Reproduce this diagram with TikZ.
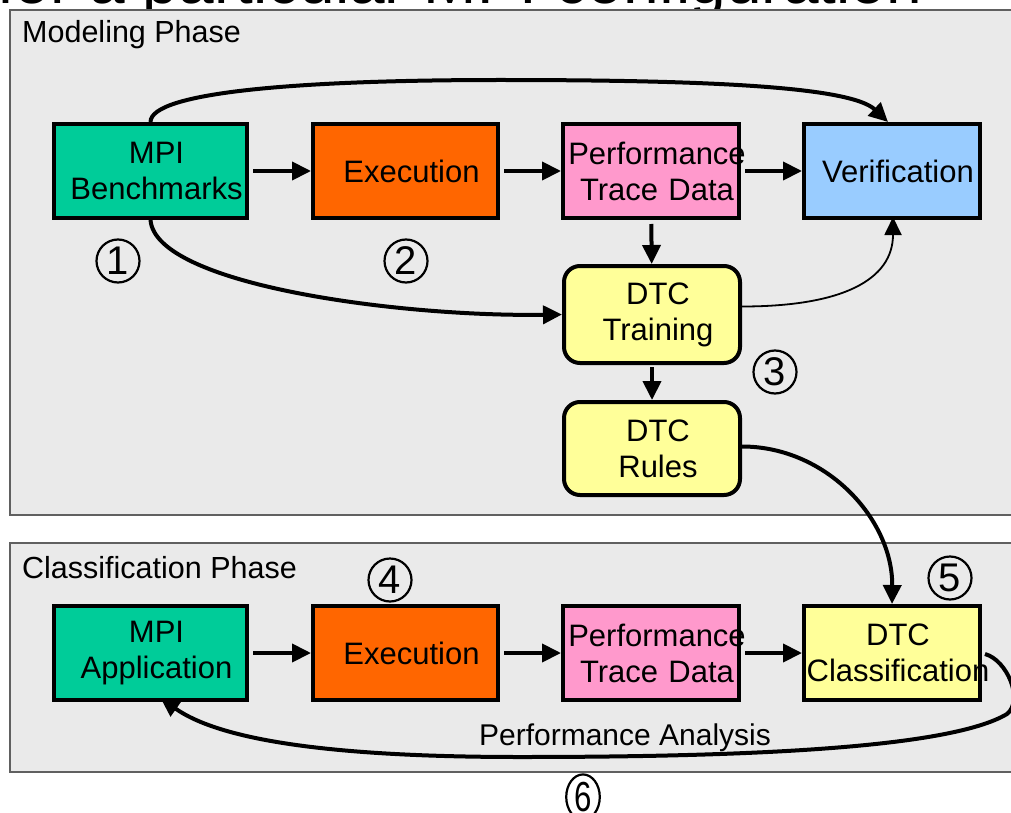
\documentclass[tikz,border=0pt]{standalone}
\usepackage{fontspec}
\setmainfont{Liberation Sans}
\usetikzlibrary{arrows.meta}
\definecolor{cteal}{HTML}{00CC99}
\definecolor{corange}{HTML}{FF6600}
\definecolor{cpink}{HTML}{FF99CC}
\definecolor{cblue}{HTML}{99CCFF}
\definecolor{cyellow}{HTML}{FFFF99}
\definecolor{cpanel}{HTML}{EAEAEA}
\definecolor{cpanelline}{HTML}{606060}
\newcommand\tline[1]{\hspace*{12pt}\makebox[0pt]{#1}}
\begin{document}
\begin{tikzpicture}[x=1pt,y=-1pt,
  box/.style={draw=black, line width=4pt, inner sep=0pt, minimum height=94pt,
    text width=#1, minimum width=#1,
    align=center, font=\fontsize{31}{36}\selectfont},
  rbox/.style={box=#1, rounded corners=16pt},
  panel/.style={fill=cpanel, draw=cpanelline, line width=1.5pt},
  panellabel/.style={anchor=base west, inner sep=0pt, font=\fontsize{30.5}{34}\selectfont},
  num/.style={circle, draw=black, line width=2.2pt, inner sep=0pt, minimum size=43pt,
    font=\fontsize{40}{40}\selectfont},
  conn/.style={line width=4pt, -{Triangle[length=19pt,width=18pt]}},
  thinconn/.style={line width=1.8pt, -{Triangle[length=18pt,width=17pt]}}
]
\useasboundingbox (0,0) rectangle (1011,813);
\clip (0,0) rectangle (1011,813);

% cut-off title
\node[anchor=base west, inner sep=0pt, font=\fontsize{64}{64}\selectfont] (title) at (-3,4) {for a particular MPI configuration};

% panels
\draw[panel] (10,10) rectangle (1030,515);
\draw[panel] (10,543) rectangle (1030,772);
\node[panellabel] (lab1) at (22,43) {Modeling Phase};
\node[panellabel] (lab2) at (22,578) {Classification Phase};

% modeling row
\node[box=193pt, fill=cteal] (mb) at (150.5,171) {\tline{MPI}\\\tline{Benchmarks}};
\node[box=185pt, fill=corange] (ex1) at (405.5,171) {\tline{Execution}};
\node[box=176pt, fill=cpink] (ptd1) at (651,171) {\tline{Performance}\\\tline{Trace Data}};
\node[box=176pt, fill=cblue] (ver) at (892,171) {\tline{Verification}};
\node[rbox=176pt, fill=cyellow, minimum height=97pt] (trn) at (652,314.5) {\tline{DTC}\\\tline{Training}};
\node[rbox=176pt, fill=cyellow, minimum height=93pt] (rul) at (652,448.5) {\tline{DTC}\\\tline{Rules}};

% classification row
\node[box=193pt, fill=cteal] (ma) at (150.5,653) {\tline{MPI}\\\tline{Application}};
\node[box=185pt, fill=corange] (ex2) at (405.5,653) {\tline{Execution}};
\node[box=176pt, fill=cpink] (ptd2) at (651,653) {\tline{Performance}\\\tline{Trace Data}};
\node[box=176pt, fill=cyellow] (cls) at (892,653) {\tline{DTC}\\\tline{Classification}};

% numbers
\node[num] (n1) at (118,261) {1};
\node[num] (n2) at (406,261) {2};
\node[num] (n3) at (775,372) {3};
\node[num] (n4) at (390,580) {4};
\node[num] (n5) at (950,578) {5};
\node[num, xscale=0.78, yscale=1.05] (n6) at (583,797) {6};

% straight connectors
\draw[conn, shorten <=4pt] (mb) -- (ex1);
\draw[conn, shorten <=4pt] (ex1) -- (ptd1);
\draw[conn, shorten <=4pt] (ptd1) -- (ver);
\draw[conn, shorten <=4pt] (ptd1) -- (trn);
\draw[conn, shorten <=2pt] (trn) -- (rul);
\draw[conn, shorten <=4pt] (ma) -- (ex2);
\draw[conn, shorten <=4pt] (ex2) -- (ptd2);
\draw[conn, shorten <=4pt] (ptd2) -- (cls);

% curved connectors
\draw[conn] (mb.north) .. controls +(0,-30) and (300,80) .. (500,80)
  .. controls (700,80) and (850,86) .. ([xshift=-4pt]ver.north);
\draw[conn] (mb.south) .. controls +(5,65) and (400,317) .. (trn.west);
\draw[thinconn] ([yshift=8pt]trn.east) .. controls +(100,0) and (893,280) .. ([xshift=1pt,yshift=3pt]ver.south);
\draw[conn] ([yshift=2pt]rul.east) .. controls +(85,0) and (893,520) .. (cls.north);
\draw[conn] ([xshift=3pt,yshift=-1pt]cls.east) .. controls +(22,6) and (1024,700) .. (1007,714)
  .. controls (950,748) and (750,757) .. (520,757)
  .. controls (330,757) and (220,740) .. ([xshift=10pt,yshift=4pt]ma.south);
\node[inner sep=0pt, font=\fontsize{30}{34}\selectfont] (pa) at (625,738) {Performance Analysis};
\end{tikzpicture}
\end{document}
